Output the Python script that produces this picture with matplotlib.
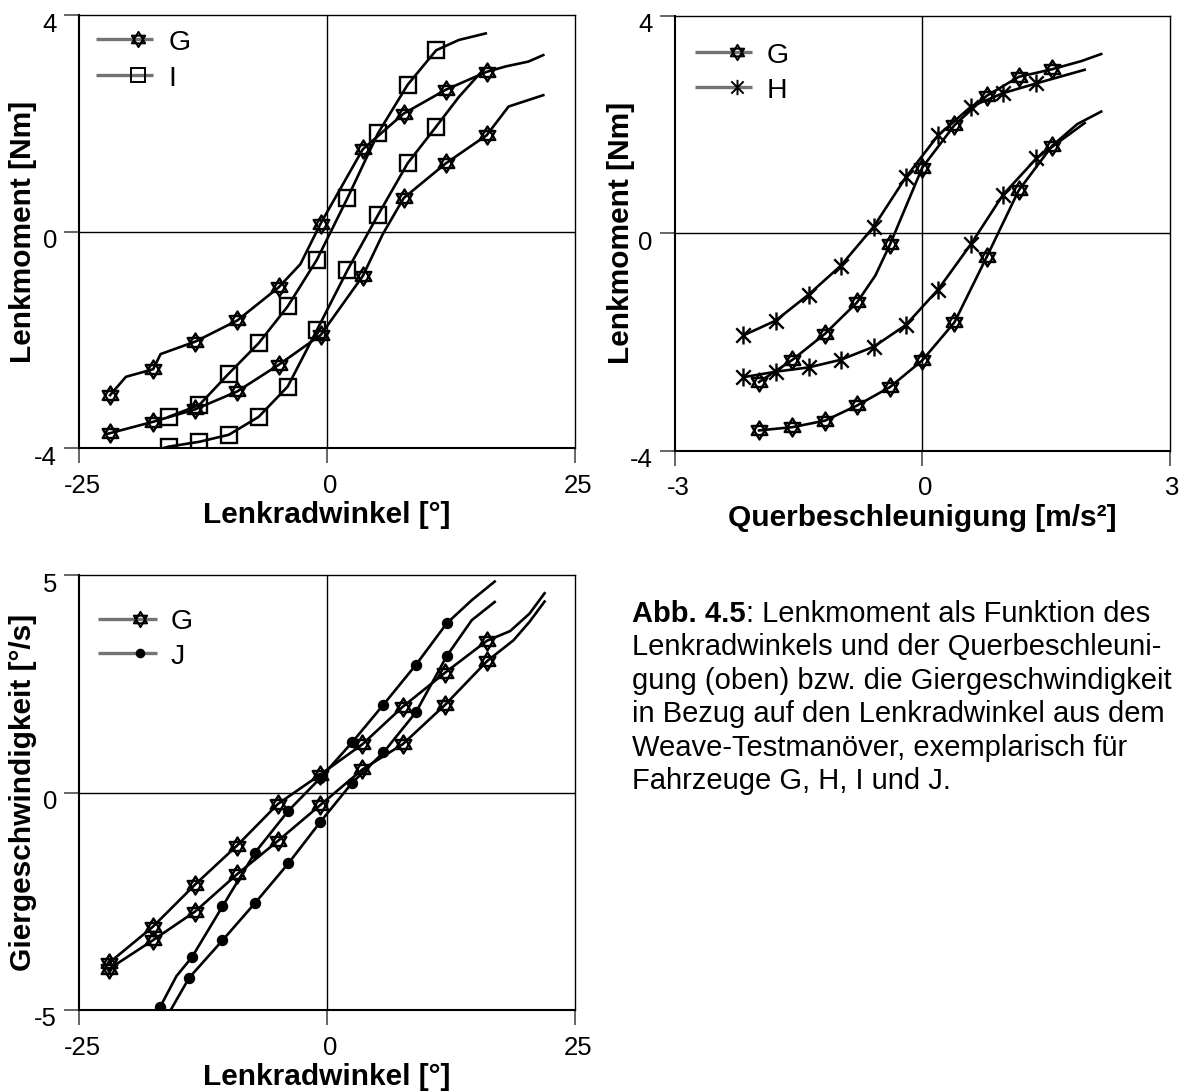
import matplotlib
matplotlib.use('Agg')
import matplotlib.pyplot as plt
from matplotlib.path import Path
from matplotlib.transforms import ScaledTranslation

plt.rcParams['font.family'] = 'Liberation Sans'
plt.rcParams['axes.unicode_minus'] = False

# --- Lenkmoment [Nm] ueber Lenkradwinkel [deg], Fahrzeuge G und I (Hin- und Rueckast)
lrw_G1 = [-21.9, -20.3, -17.55, -16.8, -13.3, -9.07, -4.9, -2.7, -0.66, 3.59, 7.72, 11.96, 16.09, 18.0, 20.3, 21.8]
lm_G1 = [-3.02, -2.68, -2.54, -2.26, -2.03, -1.64, -1.03, -0.60, 0.15, 1.52, 2.18, 2.62, 2.95, 3.05, 3.14, 3.26]
mk_G1 = [0, 2, 4, 5, 6, 8, 9, 10, 11, 12]

lrw_G2 = [-22.3, -21.9, -17.55, -13.3, -9.07, -4.9, -0.66, 3.59, 5.6, 7.72, 11.96, 16.09, 18.3, 21.8]
lm_G2 = [-3.74, -3.72, -3.51, -3.28, -2.95, -2.46, -1.91, -0.82, -0.05, 0.62, 1.26, 1.78, 2.31, 2.52]
mk_G2 = [1, 2, 3, 4, 5, 6, 7, 9, 10, 11]

lrw_I1 = [-16.0, -12.9, -9.92, -6.91, -3.98, -1.04, 2.05, 5.14, 8.11, 11.0, 13.3, 16.0]
lm_I1 = [-3.42, -3.2, -2.62, -2.06, -1.38, -0.52, 0.62, 1.82, 2.71, 3.35, 3.54, 3.66]
mk_I1 = [0, 1, 2, 3, 4, 5, 6, 7, 8, 9]

lrw_I2 = [-16.6, -16.0, -12.9, -9.92, -6.91, -3.98, -1.04, 2.05, 5.14, 8.11, 11.0, 13.3, 15.7]
lm_I2 = [-4.0, -3.97, -3.88, -3.75, -3.42, -2.86, -1.82, -0.71, 0.31, 1.26, 1.94, 2.49, 2.98]
mk_I2 = [1, 2, 3, 4, 5, 6, 7, 8, 9, 10]

# --- Lenkmoment [Nm] ueber Querbeschleunigung [m/s2], Fahrzeuge G und H
qb_G1 = [-1.98, -1.575, -1.18, -0.79, -0.57, -0.39, 0.0, 0.39, 0.78, 1.17, 1.575, 1.93, 2.17]
lm2_G1 = [-2.74, -2.33, -1.85, -1.27, -0.78, -0.20, 1.21, 1.99, 2.53, 2.88, 3.02, 3.17, 3.30]
mk2_G1 = [0, 1, 2, 3, 5, 6, 7, 8, 9, 10]

qb_G2 = [-1.98, -1.575, -1.18, -0.79, -0.39, 0.0, 0.39, 0.78, 1.17, 1.575, 1.88, 2.17]
lm2_G2 = [-3.63, -3.57, -3.45, -3.17, -2.83, -2.34, -1.64, -0.44, 0.79, 1.61, 2.01, 2.24]
mk2_G2 = [0, 1, 2, 3, 4, 5, 6, 7, 8, 9]

qb_H = [-2.17, -1.78, -1.38, -0.99, -0.59, -0.20, 0.19, 0.59, 0.98, 1.385, 1.97]
lm2_H1 = [-1.88, -1.61, -1.13, -0.60, 0.12, 1.03, 1.80, 2.33, 2.58, 2.76, 3.01]
lm2_H2 = [-2.65, -2.55, -2.47, -2.33, -2.09, -1.69, -1.04, -0.20, 0.71, 1.38, 2.03]
mk2_H = [0, 1, 2, 3, 4, 5, 6, 7, 8, 9]

# --- Giergeschwindigkeit [deg/s] ueber Lenkradwinkel [deg], Fahrzeuge G und J
lrw3_G1 = [-21.96, -17.6, -13.34, -9.09, -4.95, -0.70, 3.56, 7.62, 11.87, 16.13, 18.45, 20.4, 21.93]
gg_G1 = [-3.91, -3.09, -2.12, -1.22, -0.26, 0.41, 1.11, 1.97, 2.75, 3.49, 3.71, 4.11, 4.58]
lrw3_G2 = [-21.96, -17.6, -13.34, -9.09, -4.95, -0.70, 3.56, 7.62, 11.87, 16.13, 18.8, 20.4, 21.93]
gg_G2 = [-4.05, -3.40, -2.74, -1.88, -1.11, -0.29, 0.53, 1.11, 2.01, 3.02, 3.5, 3.92, 4.39]
mk3_G = [0, 1, 2, 3, 4, 5, 6, 7, 8, 9]

lrw3_J1 = [-16.82, -15.2, -13.65, -10.56, -7.27, -3.91, -0.70, 2.51, 5.68, 8.97, 12.07, 14.58, 16.9]
gg_J1 = [-4.92, -4.22, -3.79, -2.62, -1.38, -0.42, 0.33, 1.15, 2.02, 2.94, 3.89, 4.42, 4.85]
mk3_J1 = [0, 2, 3, 4, 5, 6, 7, 8, 9, 10]

lrw3_J2 = [-15.78, -13.92, -10.56, -7.27, -3.91, -0.70, 2.51, 5.68, 8.97, 12.07, 14.58, 16.9]
gg_J2 = [-5.0, -4.26, -3.40, -2.54, -1.63, -0.68, 0.22, 0.92, 1.85, 3.14, 3.96, 4.38]
mk3_J2 = [1, 2, 3, 4, 5, 6, 7, 8, 9]

caption = ["Lenkradwinkels und der Querbeschleuni-",
           "gung (oben) bzw. die Giergeschwindigkeit",
           "in Bezug auf den Lenkradwinkel aus dem",
           "Weave-Testmanöver, exemplarisch für",
           "Fahrzeuge G, H, I und J."]

# Marker: Davidstern (zwei Dreiecke) und Excel-Stern (X mit senkrechtem Strich)
hexagram = Path([(0, 1), (-0.866, -0.5), (0.866, -0.5), (0, 1),
                 (0, -1), (-0.866, 0.5), (0.866, 0.5), (0, -1)],
                [Path.MOVETO, Path.LINETO, Path.LINETO, Path.CLOSEPOLY,
                 Path.MOVETO, Path.LINETO, Path.LINETO, Path.CLOSEPOLY])
asterisk = Path([(0, -1), (0, 1), (-0.8, -0.8), (0.8, 0.8), (-0.8, 0.8), (0.8, -0.8)],
                [Path.MOVETO, Path.LINETO, Path.MOVETO, Path.LINETO, Path.MOVETO, Path.LINETO])

STYLE = {
    'G': dict(marker=hexagram, ms=13, mfc='none'),
    'I': dict(marker='s', ms=11.5, mfc='none'),
    'H': dict(marker=asterisk, ms=13, mfc='none'),
    'J': dict(marker='o', ms=6.5, mfc='black'),
}

W, H = 1181, 1091
fig = plt.figure(figsize=(W / 100, H / 100), dpi=100)


def pxAxes(left, top, right, bottom):
    return fig.add_axes([left / W, 1 - bottom / H, (right - left) / W, (bottom - top) / H])


def setupAxes(ax, xlim, ylim, xlabel, ylabel, xlabY, ylabX):
    ax.set_xlim(xlim)
    ax.set_ylim(ylim)
    ax.set_xticks([xlim[0], 0, xlim[1]])
    ax.set_yticks([ylim[0], 0, ylim[1]])
    ax.axhline(0, color='black', lw=1.0, zorder=1)
    ax.axvline(0, color='black', lw=1.0, zorder=1)
    for s in ['top', 'right']:
        ax.spines[s].set_linewidth(1.0)
    for s in ['left', 'bottom']:
        ax.spines[s].set_linewidth(1.5)
    ax.tick_params(direction='out', length=10.5, width=1.3, color='0.35', labelsize=18.5)
    ax.tick_params(axis='x', pad=8.0)
    ax.tick_params(axis='y', pad=5.6)

    down = ScaledTranslation(0, -0.07, fig.dpi_scale_trans)
    for lab in ax.get_yticklabels():
        lab.set_transform(lab.get_transform() + down)
    right = ScaledTranslation(0.03, 0, fig.dpi_scale_trans)
    for lab in ax.get_xticklabels():
        lab.set_transform(lab.get_transform() + right)

    ax.set_xlabel(xlabel, fontsize=21.5, fontweight='bold')
    ax.xaxis.set_label_coords(0.5, xlabY)
    ax.xaxis.label.set_va('baseline')
    ax.set_ylabel(ylabel, fontsize=21.5, fontweight='bold')
    ax.yaxis.set_label_coords(ylabX, 0.5)
    ax.yaxis.label.set_va('baseline')


def drawCurve(ax, x, y, marks, key):
    st = STYLE[key]
    ax.plot(x, y, color='black', lw=1.9, marker=st['marker'], ms=st['ms'],
            mfc=st['mfc'], mec='black', mew=1.7, markevery=marks, zorder=3)


def drawLegend(ax, keys, x0, x1, xm, xt, rows):
    for key, yr in zip(keys, rows):
        st = STYLE[key]
        ax.plot([x0, x1], [yr, yr], transform=ax.transAxes, color='0.45', lw=2.4,
                solid_capstyle='butt', zorder=4)
        ax.plot([xm], [yr], transform=ax.transAxes, linestyle='none', marker=st['marker'],
                ms=st['ms'] * 0.85, mfc=st['mfc'], mec='black', mew=1.4, zorder=5)
        ax.text(xt, yr - 0.009, key, transform=ax.transAxes, fontsize=20.5, va='center', ha='left')


# oben links: Lenkmoment ueber Lenkradwinkel
ax1 = pxAxes(79.3, 15, 575, 448.3)
setupAxes(ax1, (-25, 25), (-4, 4), 'Lenkradwinkel [°]', 'Lenkmoment [Nm]', -0.1724, -0.0974)
drawCurve(ax1, lrw_G1, lm_G1, mk_G1, 'G')
drawCurve(ax1, lrw_G2, lm_G2, mk_G2, 'G')
drawCurve(ax1, lrw_I1, lm_I1, mk_I1, 'I')
drawCurve(ax1, lrw_I2, lm_I2, mk_I2, 'I')
drawLegend(ax1, ['G', 'I'], 0.0331, 0.1487, 0.118, 0.1797, [0.9439, 0.8615])

# oben rechts: Lenkmoment ueber Querbeschleunigung
ax2 = pxAxes(675, 16, 1169.6, 450.5)
setupAxes(ax2, (-3, 3), (-4, 4), 'Querbeschleunigung [m/s²]', 'Lenkmoment [Nm]', -0.1747, -0.0934)
drawCurve(ax2, qb_G1, lm2_G1, mk2_G1, 'G')
drawCurve(ax2, qb_G2, lm2_G2, mk2_G2, 'G')
drawCurve(ax2, qb_H, lm2_H1, mk2_H, 'H')
drawCurve(ax2, qb_H, lm2_H2, mk2_H, 'H')
drawLegend(ax2, ['G', 'H'], 0.0404, 0.1557, 0.1254, 0.1854, [0.9178, 0.8373])

# unten links: Giergeschwindigkeit ueber Lenkradwinkel
ax3 = pxAxes(79.3, 575, 575, 1010)
setupAxes(ax3, (-25, 25), (-5, 5), 'Lenkradwinkel [°]', 'Giergeschwindigkeit [°/s]', -0.1717, -0.0974)
drawCurve(ax3, lrw3_G1, gg_G1, mk3_G, 'G')
drawCurve(ax3, lrw3_G2, gg_G2, mk3_G, 'G')
drawCurve(ax3, lrw3_J1, gg_J1, mk3_J1, 'J')
drawCurve(ax3, lrw3_J2, gg_J2, mk3_J2, 'J')
drawLegend(ax3, ['G', 'J'], 0.0371, 0.1561, 0.1225, 0.184, [0.900, 0.8211])

# Bildunterschrift rechts unten
capX = 632 / W
capSize = 21
first = fig.text(capX, 1 - 622 / H, 'Abb. 4.5', fontsize=capSize, fontweight='bold', va='baseline')
ax3.annotate(': Lenkmoment als Funktion des', xy=(1, 0), xycoords=first,
             fontsize=capSize, va='bottom', ha='left', annotation_clip=False)
for i, line in enumerate(caption):
    fig.text(capX, 1 - (622 + 33.4 * (i + 1)) / H, line, fontsize=capSize, va='baseline')

fig.savefig('out.png', dpi=100)
